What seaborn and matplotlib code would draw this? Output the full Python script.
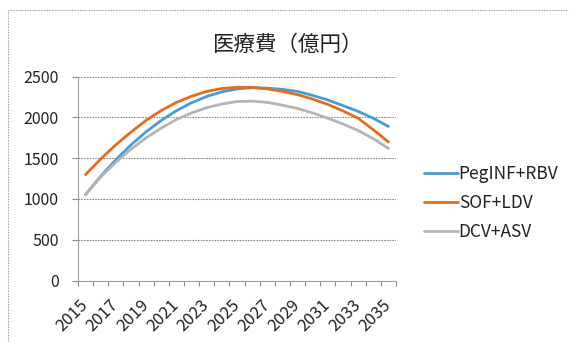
import numpy as np
import pandas as pd
import matplotlib
matplotlib.use("Agg")
import matplotlib.pyplot as plt
import seaborn as sns
from matplotlib.patches import Rectangle

# 年度
years = list(range(2015, 2036))

# 医療費（億円）
peginf_rbv = [1055, 1279, 1481, 1663, 1824, 1964, 2083, 2181, 2258, 2314, 2350,
              2365, 2360, 2345, 2320, 2270, 2215, 2145, 2075, 1990, 1890]
sof_ldv = [1300, 1490, 1665, 1820, 1965, 2085, 2185, 2260, 2320, 2355, 2370,
           2370, 2350, 2320, 2280, 2225, 2160, 2080, 1990, 1850, 1700]
dcv_asv = [1055, 1270, 1450, 1610, 1750, 1870, 1975, 2055, 2120, 2165, 2195,
           2200, 2185, 2150, 2110, 2055, 1990, 1920, 1840, 1740, 1620]

series_names = ["PegINF+RBV", "SOF+LDV", "DCV+ASV"]
colors = ["#4A9BD4", "#E46C1E", "#B4B4B4"]

df = pd.DataFrame({
    "year": years * 3,
    "cost": peginf_rbv + sof_ldv + dcv_asv,
    "regimen": np.repeat(series_names, len(years)),
})

sns.set_theme(style="white")
plt.rcParams["font.family"] = ["Noto Sans CJK JP", "DejaVu Sans"]

W, H = 569, 342
fig = plt.figure(figsize=(W / 100, H / 100), dpi=100)
ax = fig.add_axes([78 / W, 1 - 280.5 / H, (396 - 78) / W, (280.5 - 76.7) / H])

sns.lineplot(data=df, x="year", y="cost", hue="regimen", hue_order=series_names,
             palette=colors, linewidth=2.0, ax=ax, legend=True)

grid_color = "#8C8C8C"
text_color = "#222222"
ax.set_xlim(years[0] - 0.5, years[-1] + 0.5)
ax.set_ylim(0, 2500)
ax.set_yticks(range(0, 2501, 500))
ax.set_xticks(years[::2])
ax.set_xticks(np.arange(years[0] - 0.5, years[-1] + 1.0, 1.0), minor=True)
ax.tick_params(axis="x", which="major", length=0, pad=16, labelsize=12,
               labelcolor=text_color)
ax.tick_params(axis="x", which="minor", length=3.5, color=grid_color, width=0.8,
               direction="out", bottom=True)
ax.tick_params(axis="y", length=4, color=grid_color, width=0.8, pad=10,
               labelsize=11.5, labelcolor=text_color, left=True)
for lab in ax.get_xticklabels():
    lab.set_rotation(45)
    lab.set_ha("right")
    lab.set_va("center")
    lab.set_rotation_mode("anchor")

ax.yaxis.grid(True, color=grid_color, linestyle=(0, (1.5, 1.0)), linewidth=0.8)
ax.xaxis.grid(False)
for side in ["top", "right"]:
    ax.spines[side].set_visible(False)
for side in ["left", "bottom"]:
    ax.spines[side].set_color("#A0A0A0")
    ax.spines[side].set_linestyle((0, (1.5, 1.0)))
    ax.spines[side].set_linewidth(0.8)
ax.set_xlabel("")
ax.set_ylabel("")

handles, labels = ax.get_legend_handles_labels()
ax.legend(handles, labels, loc="center left",
          bbox_to_anchor=(424 / W, 1 - 203 / H), bbox_transform=fig.transFigure,
          frameon=False, fontsize=12.5, handlelength=1.95, handletextpad=0.05,
          labelspacing=0.62, borderpad=0, borderaxespad=0,
          labelcolor=text_color)

fig.text(288 / W, 1 - 45 / H, "医療費（億円）", ha="center", va="center",
         fontsize=15.5, color=text_color)

# chart frame
fig.patches.append(Rectangle((8 / W, -0.05), 1.2, 1 - 9.5 / H + 0.05,
                             transform=fig.transFigure, fill=False,
                             edgecolor="#A8A8A8", linewidth=0.8,
                             linestyle=(0, (1.5, 1.0))))

fig.savefig("out.png", dpi=100)
